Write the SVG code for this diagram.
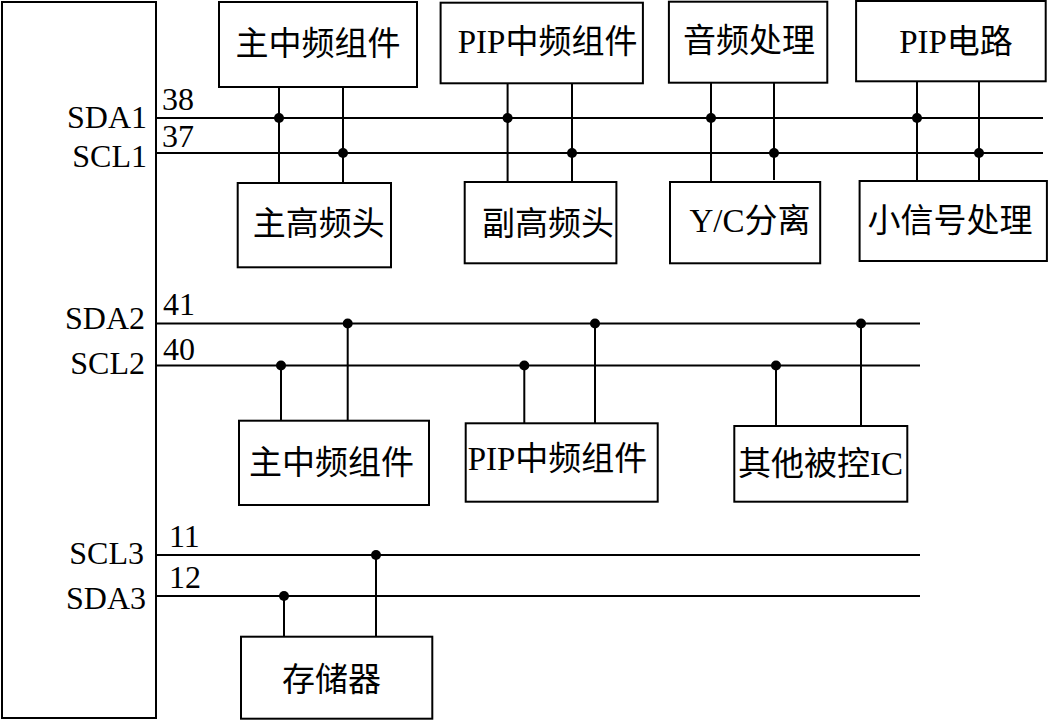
<svg xmlns="http://www.w3.org/2000/svg" width="1048" height="721" viewBox="0 0 1048 721">
<style>
.box{fill:#fff;stroke:#000;stroke-width:2}
.bus{stroke:#000;stroke-width:2;fill:none}
.dot{fill:#000}
.lbl{font-family:"Liberation Serif","Noto Sans CJK SC",serif;font-size:33px;fill:#000;text-anchor:middle}
.pin{font-family:"Liberation Serif",serif;font-size:32px;fill:#000}
.pinr{font-family:"Liberation Serif",serif;font-size:32px;fill:#000;text-anchor:end}
</style>
<rect width="1048" height="721" fill="#fff"/>
<g id="mcu">
<rect class="box" x="2" y="2" width="154" height="716"/>
<text class="pinr" x="147" y="128">SDA1</text>
<text class="pinr" x="147" y="167">SCL1</text>
<text class="pinr" x="145" y="329">SDA2</text>
<text class="pinr" x="145" y="374">SCL2</text>
<text class="pinr" x="144" y="564">SCL3</text>
<text class="pinr" x="146" y="609">SDA3</text>
<text class="pin" x="162" y="110">38</text>
<text class="pin" x="162" y="147">37</text>
<text class="pin" x="163" y="315">41</text>
<text class="pin" x="163" y="360">40</text>
<text class="pin" x="169" y="547">11</text>
<text class="pin" x="169" y="588">12</text>
</g>
<g id="connectors">
<path class="bus" d="M156 118H1043M156 153H1043M156 323.5H920M156 365.5H920M156 555H920M156 596H920"/>
<path class="bus" d="M279 87V183M343 87V183M507.6 83V182M572 83V182M711 83V182M774 83V180M917 81V181M979 81V181"/>
<path class="bus" d="M281 365.5V421M347.7 323.5V421M524.3 365.5V423M595 323.5V423M776 365.5V426M861 323.5V426M284 596V637M376 555V637"/>
<circle class="dot" cx="279" cy="118" r="5"/>
<circle class="dot" cx="343" cy="153" r="5"/>
<circle class="dot" cx="507.6" cy="118" r="5"/>
<circle class="dot" cx="572" cy="153" r="5"/>
<circle class="dot" cx="711" cy="118" r="5"/>
<circle class="dot" cx="774" cy="153" r="5"/>
<circle class="dot" cx="917" cy="118" r="5"/>
<circle class="dot" cx="979" cy="153" r="5"/>
<circle class="dot" cx="347.7" cy="323.5" r="5"/>
<circle class="dot" cx="281" cy="365.5" r="5"/>
<circle class="dot" cx="595" cy="323.5" r="5"/>
<circle class="dot" cx="524.3" cy="365.5" r="5"/>
<circle class="dot" cx="861" cy="323.5" r="5"/>
<circle class="dot" cx="776" cy="365.5" r="5"/>
<circle class="dot" cx="376" cy="555" r="5"/>
<circle class="dot" cx="284" cy="596" r="5"/>
</g>
<g id="main-if1"><rect class="box" x="219" y="2" width="198" height="85"/><text class="lbl" x="318" y="55">主中频组件</text></g>
<g id="main-tuner"><rect class="box" x="237.7" y="183" width="153.3" height="84.3"/><text class="lbl" x="318.7" y="235">主高频头</text></g>
<g id="pip-if1"><rect class="box" x="440.6" y="2.7" width="202.3" height="80.6"/><text class="lbl" x="547.6" y="53">PIP中频组件</text></g>
<g id="sub-tuner"><rect class="box" x="464.7" y="182" width="151.7" height="81.3"/><text class="lbl" x="548" y="235">副高频头</text></g>
<g id="audio"><rect class="box" x="668.9" y="1.7" width="158.4" height="81"/><text class="lbl" x="749" y="52">音频处理</text></g>
<g id="yc"><rect class="box" x="670" y="182" width="150.2" height="81.3"/><text class="lbl" x="750" y="232">Y/C分离</text></g>
<g id="pip-circuit"><rect class="box" x="856.1" y="1" width="189.6" height="80.3"/><text class="lbl" x="956" y="53">PIP电路</text></g>
<g id="small-signal"><rect class="box" x="859.6" y="181" width="187.3" height="80"/><text class="lbl" x="950" y="232">小信号处理</text></g>
<g id="main-if2"><rect class="box" x="239" y="420.7" width="190" height="84.3"/><text class="lbl" x="331.5" y="474">主中频组件</text></g>
<g id="pip-if2"><rect class="box" x="465.7" y="423.3" width="192" height="78.4"/><text class="lbl" x="557.5" y="470">PIP中频组件</text></g>
<g id="other-ic"><rect class="box" x="734.3" y="426" width="173" height="75.7"/><text class="lbl" x="820.5" y="475">其他被控IC</text></g>
<g id="memory"><rect class="box" x="241" y="636.7" width="191.3" height="82"/><text class="lbl" x="331.5" y="691">存储器</text></g>
</svg>
